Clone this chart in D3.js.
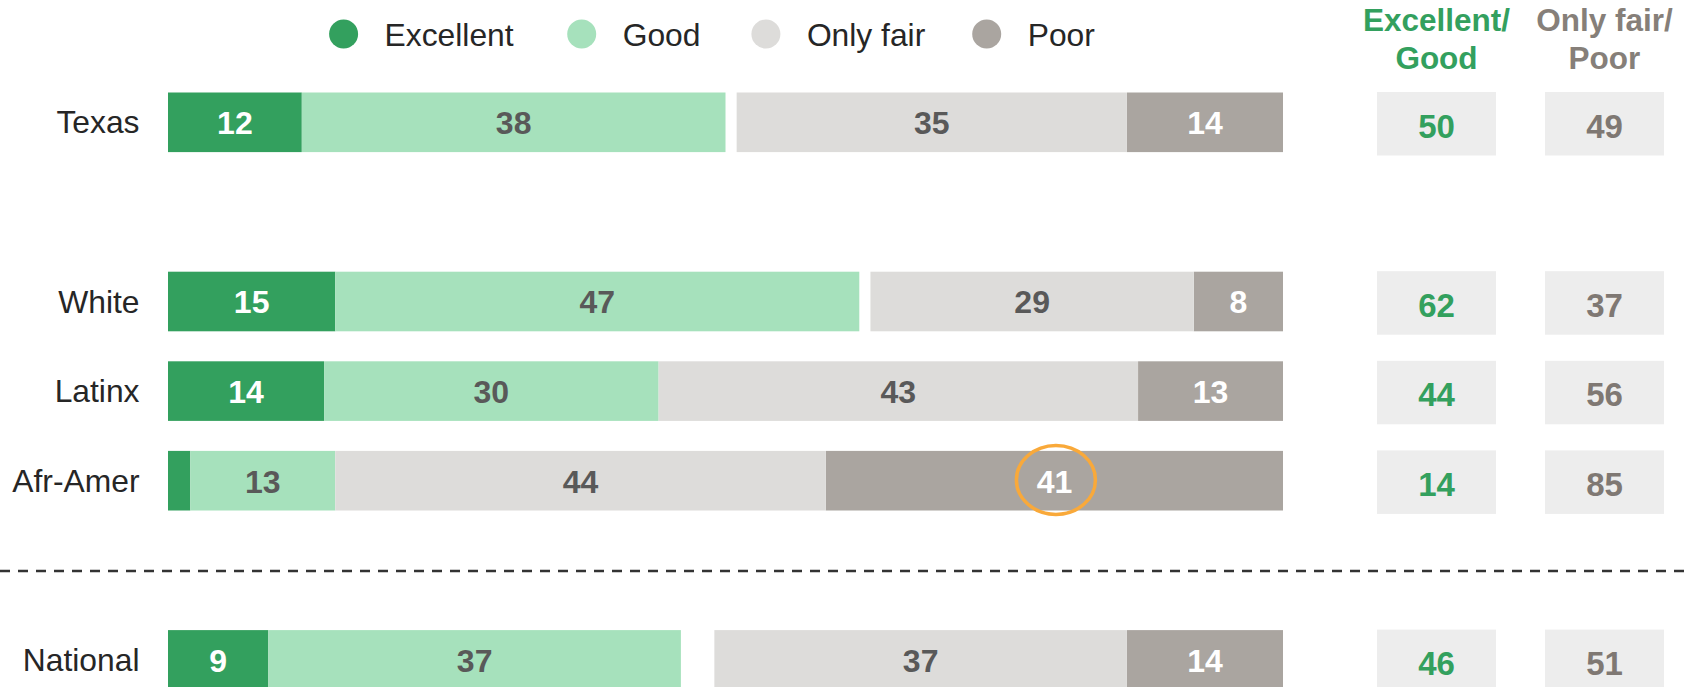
<!DOCTYPE html>
<html>
<head>
<meta charset="utf-8">
<script src="https://cdn.jsdelivr.net/npm/d3@7"></script>
<style>
  body { margin: 0; background: #fff; }
  text { font-family: "Liberation Sans", Arial, sans-serif; }
</style>
</head>
<body>
<div id="chart"></div>
<script>
// data
const categories = ["Texas", "White", "Latinx", "Afr-Amer", "National"]
const excellent = [12, 15, 14, 2, 9]
const good = [38, 47, 30, 13, 37]
const onlyFair = [35, 29, 43, 44, 37]
const poor = [14, 8, 13, 41, 14]
const excGood = [50, 62, 44, 14, 46]
const fairPoor = [49, 37, 56, 85, 51]
const seriesNames = ["Excellent", "Good", "Only fair", "Poor"]
const highlight = { category: "Afr-Amer", series: "Poor" }

const WIDTH = 1689
const HEIGHT = 687

const COLORS = {
  "Excellent": "#33a05e",
  "Good": "#a6e1bc",
  "Only fair": "#dddcda",
  "Poor": "#aaa5a0"
}
const LABEL_COLORS = {
  "Excellent": "#ffffff",
  "Good": "#595959",
  "Only fair": "#595959",
  "Poor": "#ffffff"
}

const svg = d3.select("#chart").append("svg")
  .attr("width", WIDTH)
  .attr("height", HEIGHT)

// row slots, the blank ones leave the gaps between groups
const slots = ["Texas", "gap1", "White", "Latinx", "Afr-Amer", "gap2", "National"]
const y = d3.scalePoint().domain(slots).range([122.3, 659.9])
const BAR_H = 59.6

const x = d3.scaleLinear().domain([0, 100]).range([168, 1283])

// build rows: positives stack from the left, negatives stack from the right
const rows = categories.map((c, i) => {
  const segs = []
  segs.push({ key: "Excellent", x0: 0, x1: excellent[i], v: excellent[i] })
  segs.push({ key: "Good", x0: excellent[i], x1: excellent[i] + good[i], v: good[i] })
  segs.push({ key: "Poor", x0: 100 - poor[i], x1: 100, v: poor[i] })
  segs.push({ key: "Only fair", x0: 100 - poor[i] - onlyFair[i], x1: 100 - poor[i], v: onlyFair[i] })
  return { cat: c, segs: segs, eg: excGood[i], fp: fairPoor[i] }
})

// legend
const legendX = [343.6, 581.7, 765.9, 986.7]
const legend = svg.append("g")
seriesNames.forEach((s, i) => {
  legend.append("circle")
    .attr("cx", legendX[i])
    .attr("cy", 34)
    .attr("r", 14.5)
    .attr("fill", COLORS[s])
  legend.append("text")
    .attr("x", legendX[i] + 41)
    .attr("y", 45.7)
    .attr("font-size", "31.8px")
    .attr("fill", "#262626")
    .text(s)
})

// column headers
const COL1 = 1436.5, COL2 = 1604.5, BOX_W = 119
const headers = [
  { x: COL1, lines: ["Excellent/", "Good"], color: "#33a05e" },
  { x: COL2, lines: ["Only fair/", "Poor"], color: "#867f79" }
]
headers.forEach(h => {
  h.lines.forEach((l, j) => {
    svg.append("text")
      .attr("x", h.x)
      .attr("y", 30.9 + j * 37.6)
      .attr("text-anchor", "middle")
      .attr("font-size", "31.5px")
      .attr("font-weight", "bold")
      .attr("fill", h.color)
      .text(l)
  })
})

// bars
const rowG = svg.selectAll(".row")
  .data(rows)
  .enter().append("g")
  .attr("class", "row")
  .attr("transform", d => `translate(0, ${y(d.cat)})`)

rowG.append("text")
  .attr("x", 139.5)
  .attr("y", 11)
  .attr("text-anchor", "end")
  .attr("font-size", "31.8px")
  .attr("fill", "#262626")
  .text(d => d.cat)

rowG.selectAll("rect.seg")
  .data(d => d.segs)
  .enter().append("rect")
  .attr("class", "seg")
  .attr("x", d => x(d.x0))
  .attr("y", -BAR_H / 2)
  .attr("width", d => x(d.x1) - x(d.x0))
  .attr("height", BAR_H)
  .attr("fill", d => COLORS[d.key])

rowG.selectAll("text.val")
  .data(d => d.segs.filter(s => s.v >= 5))
  .enter().append("text")
  .attr("class", "val")
  .attr("x", d => x((d.x0 + d.x1) / 2))
  .attr("y", 11.8)
  .attr("text-anchor", "middle")
  .attr("font-size", "32px")
  .attr("font-weight", "bold")
  .attr("fill", d => LABEL_COLORS[d.key])
  .text(d => d.v)

// summary boxes
const boxCols = [
  { x: COL1, get: d => d.eg, color: "#33a05e" },
  { x: COL2, get: d => d.fp, color: "#7f7873" }
]
boxCols.forEach(b => {
  rowG.append("rect")
    .attr("x", b.x - BOX_W / 2)
    .attr("y", -BAR_H / 2 - 0.5)
    .attr("width", BOX_W)
    .attr("height", 63.5)
    .attr("fill", "#ededed")
  rowG.append("text")
    .attr("x", b.x)
    .attr("y", 15.3)
    .attr("text-anchor", "middle")
    .attr("font-size", "33px")
    .attr("font-weight", "bold")
    .attr("fill", b.color)
    .text(b.get)
})

// highlight ring around one label
const hRow = rows.find(r => r.cat === highlight.category)
const hSeg = hRow.segs.find(s => s.key === highlight.series)
svg.append("ellipse")
  .attr("cx", x((hSeg.x0 + hSeg.x1) / 2) + 1.5)
  .attr("cy", y(hRow.cat) - 0.8)
  .attr("rx", 39.5)
  .attr("ry", 34.5)
  .attr("fill", "none")
  .attr("stroke", "#f9a93a")
  .attr("stroke-width", 3.5)

// dashed divider between the state groups and national
const divY = (y("gap2") + y("Afr-Amer")) / 2 + 45.5
svg.append("line")
  .attr("x1", 0)
  .attr("x2", WIDTH)
  .attr("y1", divY)
  .attr("y2", divY)
  .attr("stroke", "#333333")
  .attr("stroke-width", 2.5)
  .attr("stroke-dasharray", "10,8")
</script>
</body>
</html>
